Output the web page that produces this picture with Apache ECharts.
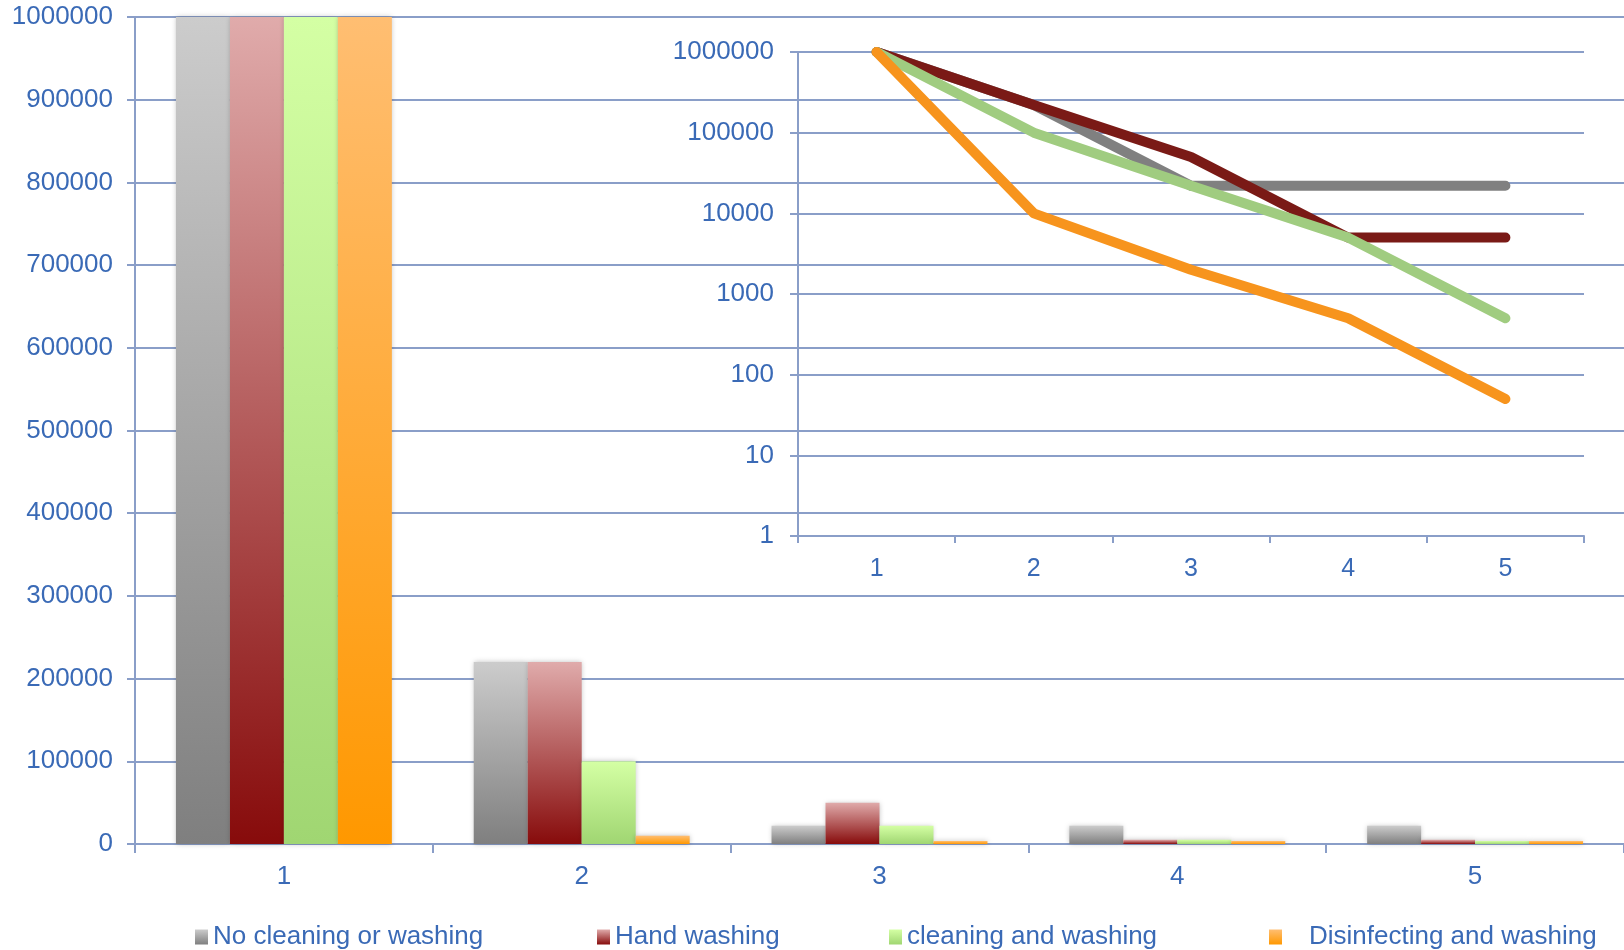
<!DOCTYPE html>
<html>
<head>
<meta charset="utf-8">
<title>Bacteria reduction</title>
<script src="https://cdn.jsdelivr.net/npm/echarts@6/dist/echarts.min.js"></script>
<style>
    html, body { margin: 0; padding: 0; background: #fff; }
    #mainChart { width: 1624px; height: 950px; }
</style>
</head>
<body>
<div id="mainChart"></div>
<script>
// 数据
const categories = ['1', '2', '3', '4', '5'];
const seriesNames = ['No cleaning or washing', 'Hand washing', 'cleaning and washing', 'Disinfecting and washing'];
const noCleaning = [1000000, 220000, 22000, 22000, 22000];
const handWashing = [1000000, 220000, 50000, 5000, 5000];
const cleaningWashing = [1000000, 100000, 22000, 5000, 500];
const disinfecting = [1000000, 10000, 2000, 500, 50];
const linearTicks = [0, 100000, 200000, 300000, 400000, 500000, 600000, 700000, 800000, 900000, 1000000];
const logTicks = [1, 10, 100, 1000, 10000, 100000, 1000000];

const allValues = [noCleaning, handWashing, cleaningWashing, disinfecting];

// 样式
const axisColor = '#8a9ec8';
const labelColor = '#3a6ab6';
const fontFamily = '"Liberation Sans", Arial, sans-serif';
const barColors = [['#cccccc', '#7f7f7f'], ['#e0abab', '#870b0b'], ['#d4ffa4', '#a0d672'], ['#ffbe72', '#ff9800']];
const lineColors = ['#808080', '#7a1a16', '#a0cc80', '#f7941d'];
const legendLeft = [195, 597, 889, 1269];
const legendGap = [5, 5, 5, 27];

document.addEventListener('DOMContentLoaded', function () {
    initChart();
});

function gradient(pair) {
    return {
        type: 'linear',
        x: 0, y: 0, x2: 0, y2: 1,
        colorStops: [{ offset: 0, color: pair[0] }, { offset: 1, color: pair[1] }]
    };
}

function initChart() {
    const chartDom = document.getElementById('mainChart');
    const myChart = echarts.init(chartDom, null, { renderer: 'canvas' });

    const barSeries = allValues.map(function (vals, i) {
        return {
            name: seriesNames[i],
            type: 'bar',
            xAxisIndex: 0,
            yAxisIndex: 0,
            data: vals,
            barGap: '0%',
            barCategoryGap: '27.5%',
            barMinHeight: 3,
            itemStyle: {
                color: gradient(barColors[i]),
                shadowColor: 'rgba(0,0,0,0.25)',
                shadowBlur: 5
            }
        };
    });

    const lineSeries = allValues.map(function (vals, i) {
        return {
            name: seriesNames[i],
            type: 'line',
            xAxisIndex: 1,
            yAxisIndex: 1,
            data: vals,
            symbol: 'none',
            z: 5,
            lineStyle: {
                color: lineColors[i],
                width: 10,
                cap: 'round',
                join: 'round'
            },
            itemStyle: { color: lineColors[i] }
        };
    });

    const legends = seriesNames.map(function (name, i) {
        return {
            data: [name],
            left: legendLeft[i],
            top: 924,
            icon: 'rect',
            itemWidth: 13,
            itemHeight: 15,
            itemGap: 0,
            padding: 0,
            textStyle: {
                color: labelColor,
                fontSize: 26,
                fontFamily: fontFamily,
                padding: [0, 0, 0, legendGap[i] - 5]
            }
        };
    });

    const option = {
        backgroundColor: '#ffffff',
        animation: false,
        textStyle: { fontFamily: fontFamily },
        legend: legends,
        grid: [
            { left: 135, right: 0, top: 17, bottom: 106 },
            { left: 798, right: 40, top: 52, bottom: 414 }
        ],
        xAxis: [
            {
                type: 'category',
                gridIndex: 0,
                data: categories,
                axisLine: { lineStyle: { color: axisColor, width: 2 } },
                axisTick: { show: true, length: 9, lineStyle: { color: axisColor, width: 2 } },
                axisLabel: { color: labelColor, fontSize: 26, margin: 20 }
            },
            {
                type: 'category',
                gridIndex: 1,
                data: categories,
                axisLine: { lineStyle: { color: axisColor, width: 2 } },
                axisTick: { show: true, length: 7, lineStyle: { color: axisColor, width: 2 } },
                axisLabel: { color: labelColor, fontSize: 25, margin: 21 }
            }
        ],
        yAxis: [
            {
                type: 'value',
                gridIndex: 0,
                min: linearTicks[0],
                max: linearTicks[linearTicks.length - 1],
                interval: linearTicks[1] - linearTicks[0],
                axisLine: { show: true, lineStyle: { color: axisColor, width: 2 } },
                axisTick: { show: true, length: 8, lineStyle: { color: axisColor, width: 2 } },
                axisLabel: { color: labelColor, fontSize: 26, margin: 22, formatter: function (v) { return String(v); } },
                splitLine: { show: true, lineStyle: { color: axisColor, width: 2 } }
            },
            {
                type: 'log',
                gridIndex: 1,
                logBase: 10,
                min: logTicks[0],
                max: logTicks[logTicks.length - 1],
                axisLine: { show: true, lineStyle: { color: axisColor, width: 2 } },
                axisTick: { show: true, length: 8, lineStyle: { color: axisColor, width: 2 } },
                axisLabel: { color: labelColor, fontSize: 26, margin: 24, formatter: function (v) { return String(Math.round(v)); } },
                splitLine: { show: true, lineStyle: { color: axisColor, width: 2 } }
            }
        ],
        series: barSeries.concat(lineSeries)
    };

    myChart.setOption(option);

    // 响应窗口大小变化
    window.addEventListener('resize', function () {
        myChart.resize();
    });
}
</script>
</body>
</html>
